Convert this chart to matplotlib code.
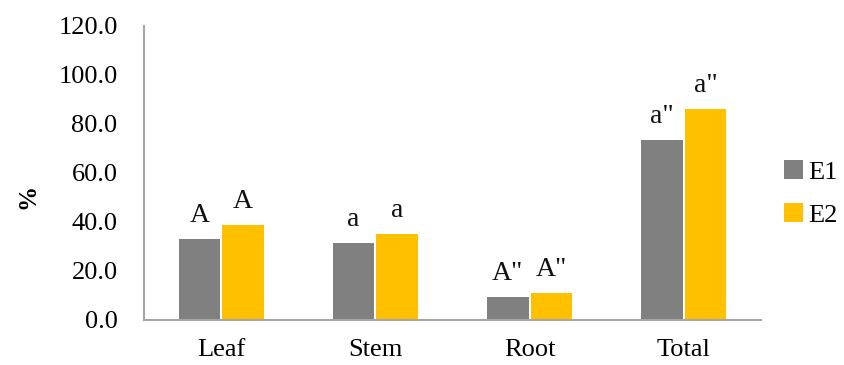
import matplotlib
matplotlib.use("Agg")
import matplotlib.pyplot as plt
import numpy as np

categories = ["Leaf", "Stem", "Root", "Total"]
e1_values = [33.0, 31.4, 9.3, 73.6]
e2_values = [38.9, 35.2, 10.9, 86.1]
e1_letters = ["A", "a", "A\"", "a\""]
e2_letters = ["A", "a", "A\"", "a\""]
series_names = ["E1", "E2"]
yticks = [0, 20, 40, 60, 80, 100, 120]

plt.rcParams['font.family'] = ['Liberation Serif', 'DejaVu Serif']

fig = plt.figure(figsize=(8.44, 3.65), dpi=100)
ax = fig.add_axes([0.1706, 0.1233, 0.9017 - 0.1706, 0.9288 - 0.1233])

x = np.arange(len(categories))
w = 0.27
gray = "#808080"
yellow = "#FFC000"
b1 = ax.bar(x - w / 2 - 0.006, e1_values, w, color=gray, label=series_names[0])
b2 = ax.bar(x + w / 2 + 0.006, e2_values, w, color=yellow, label=series_names[1])

for bars, letters in ((b1, e1_letters), (b2, e2_letters)):
    for rect, lab in zip(bars, letters):
        ax.annotate(lab, (rect.get_x() + rect.get_width() / 2, rect.get_height()),
                    xytext=(0, 8), textcoords="offset points", ha="center", va="bottom",
                    fontsize=20, color="#111111")

ax.set_xlim(-0.5, 3.5)
ax.set_ylim(0, 120)
ax.set_yticks(yticks)
ax.set_yticklabels([f"{v:.1f}" for v in yticks], fontsize=19)
ax.set_xticks(x)
ax.set_xticklabels(categories, fontsize=19)
ax.tick_params(axis='y', length=0, pad=19)
ax.tick_params(axis='x', length=0, pad=14)
for s in ("top", "right"):
    ax.spines[s].set_visible(False)
for s in ("left", "bottom"):
    ax.spines[s].set_color("#A6A6A6")
    ax.spines[s].set_linewidth(1.5)

ax.set_ylabel("%", fontsize=18, fontweight="bold")
ax.yaxis.set_label_coords(-0.17, 0.42)

leg = fig.legend(handles=[b1, b2], labels=series_names, loc="center left",
                 bbox_to_anchor=(0.929, 0.47), frameon=False, fontsize=19,
                 handlelength=0.7, handleheight=0.7, handletextpad=0.2,
                 labelspacing=0.75, borderaxespad=0, borderpad=0)

fig.savefig("out.png", dpi=100)
